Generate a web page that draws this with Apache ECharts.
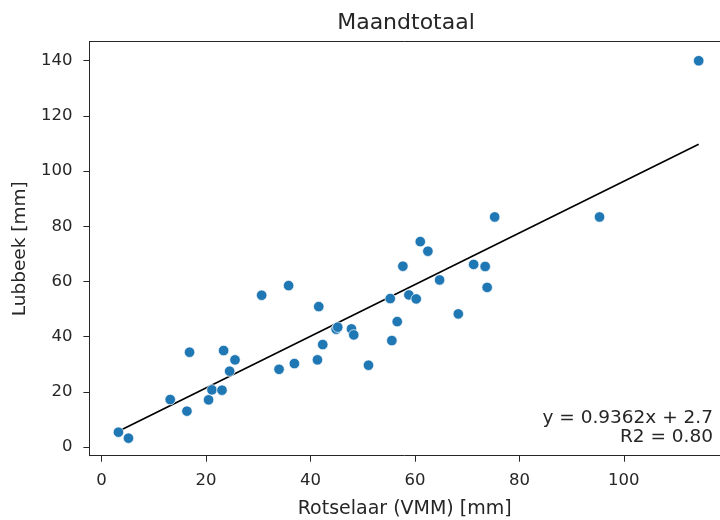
<!DOCTYPE html>
<html>
<head>
<meta charset="utf-8">
<script src="https://cdn.jsdelivr.net/npm/echarts@6/dist/echarts.min.js"></script>
<style>html,body{margin:0;padding:0;background:#fff;}#chart{width:720px;height:520px;}</style>
</head>
<body>
<div id="chart"></div>
<script>
// Scatter data: Rotselaar (VMM) vs Lubbeek monthly totals [mm]
var xValues = [3.26, 5.18, 13.17, 16.37, 16.87, 20.51, 21.16, 23.08, 23.39, 24.54, 25.57, 30.67, 34.0, 35.83, 36.94, 41.35, 41.6, 42.36, 44.93, 45.24, 47.86, 48.3, 51.12, 55.28, 55.59, 56.62, 57.7, 58.85, 60.26, 61.03, 62.49, 64.73, 68.31, 71.25, 73.45, 73.83, 75.27, 95.34, 114.32];
var yValues = [5.43, 3.26, 17.24, 13.04, 34.41, 17.13, 20.75, 20.64, 34.99, 27.53, 31.62, 55.05, 28.2, 58.53, 30.28, 31.62, 50.92, 37.16, 42.74, 43.46, 42.85, 40.67, 29.7, 53.82, 38.61, 45.49, 65.56, 55.16, 53.71, 74.47, 70.99, 60.59, 48.28, 66.21, 65.48, 57.88, 83.41, 83.41, 140.0];
// Regression line end points
var lineX = [3.26, 114.32];
var lineY = [5.75, 109.73];
var xTicks = [0, 20, 40, 60, 80, 100];
var yTicks = [0, 20, 40, 60, 80, 100, 120, 140];
var titleText = 'Maandtotaal';
var xLabel = 'Rotselaar (VMM) [mm]';
var yLabel = 'Lubbeek [mm]';
var annotation = 'y = 0.9362x + 2.7\nR2 = 0.80';

var scatterData = xValues.map(function (x, i) { return [x, yValues[i]]; });
var lineData = lineX.map(function (x, i) { return [x, lineY[i]]; });

var FONT = 'DejaVu Sans';
var TXT = '#262626';
var AX = '#262626';
var chart = echarts.init(document.getElementById('chart'), null, {renderer: 'canvas'});
chart.setOption({
  animation: false,
  backgroundColor: '#ffffff',
  grid: {left: 89.4, top: 41.7, right: 0, bottom: 64.3, show: false, containLabel: false, outerBoundsMode: 'none'},
  xAxis: [{
    type: 'value', min: -2.3, max: 118.4, position: 'bottom',
    name: xLabel, nameLocation: 'middle', nameGap: 44,
    nameTextStyle: {fontFamily: FONT, fontSize: 19, color: TXT},
    axisLine: {show: true, onZero: false, lineStyle: {color: AX, width: 1}},
    axisTick: {show: true, length: 6, customValues: xTicks, lineStyle: {color: AX}},
    axisLabel: {customValues: xTicks, margin: 17, fontFamily: FONT, fontSize: 16.5, color: TXT},
    splitLine: {show: false}
  }, {
    type: 'value', min: -2.3, max: 118.4, position: 'top',
    axisLine: {show: true, onZero: false, lineStyle: {color: AX, width: 1}},
    axisTick: {show: false}, axisLabel: {show: false}, splitLine: {show: false}
  }],
  yAxis: {
    type: 'value', min: -3.1, max: 146.9,
    name: yLabel, nameLocation: 'middle', nameGap: 59, nameRotate: 90,
    nameTextStyle: {fontFamily: FONT, fontSize: 18.5, color: TXT},
    axisLine: {show: true, onZero: false, lineStyle: {color: AX, width: 1}},
    axisTick: {show: true, length: 6, customValues: yTicks, lineStyle: {color: AX}},
    axisLabel: {customValues: yTicks, margin: 17, fontFamily: FONT, fontSize: 16.5, color: TXT},
    splitLine: {show: false}
  },
  graphic: [
    {type: 'text', x: 406, y: 23, style: {text: titleText, fontFamily: FONT, fontSize: 22, fill: TXT, align: 'center', verticalAlign: 'middle'}},
    {type: 'text', x: 713, y: 428, style: {text: annotation, fontFamily: FONT, fontSize: 18.5, lineHeight: 19, fill: TXT, align: 'right', verticalAlign: 'middle'}}
  ],
  series: [
    {type: 'scatter', xAxisIndex: 0, data: scatterData, symbol: 'circle', symbolSize: 10.5,
     itemStyle: {color: '#1f77b4', borderColor: '#ffffff', borderWidth: 0.7, opacity: 1}, z: 3},
    {type: 'line', xAxisIndex: 0, data: lineData, symbol: 'none', lineStyle: {color: '#000000', width: 1.6}, z: 2}
  ]
});
</script>
</body>
</html>
